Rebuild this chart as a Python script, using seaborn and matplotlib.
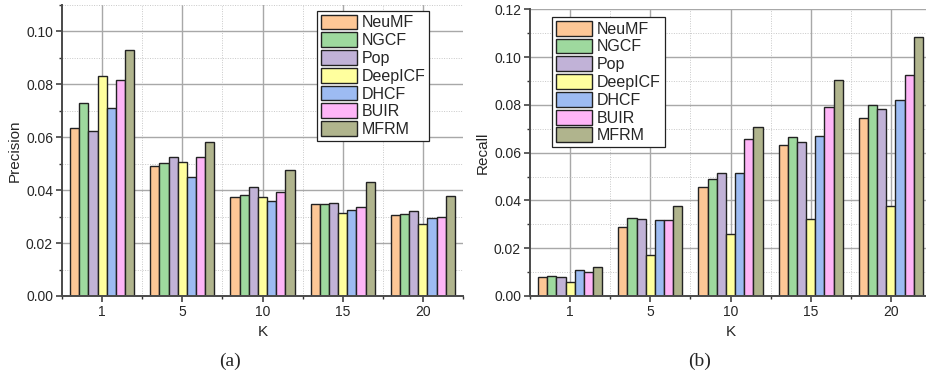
import numpy as np
import pandas as pd
import matplotlib
matplotlib.use("Agg")
import matplotlib.pyplot as plt
from matplotlib.ticker import MultipleLocator, FixedLocator
import seaborn as sns

sns.set_style("white")
plt.rcParams['font.family'] = ['Liberation Sans', 'DejaVu Sans']

ks = ['1', '5', '10', '15', '20']
methods = ['NeuMF', 'NGCF', 'Pop', 'DeepICF', 'DHCF', 'BUIR', 'MFRM']
colors = ['#FDC796', '#9ED99E', '#C1B2D7', '#FFFF9E', '#9DBBF2', '#FEB5F7', '#B0B48D']

# precision per method, one value per K
prec_neumf = [0.0634, 0.0492, 0.0374, 0.0349, 0.0306]
prec_ngcf = [0.0729, 0.0504, 0.0383, 0.0349, 0.0309]
prec_pop = [0.0625, 0.0524, 0.0412, 0.0351, 0.0321]
prec_deepicf = [0.0831, 0.0508, 0.0374, 0.0312, 0.0272]
prec_dhcf = [0.0710, 0.0451, 0.0360, 0.0326, 0.0295]
prec_buir = [0.0816, 0.0524, 0.0392, 0.0335, 0.0298]
prec_mfrm = [0.0931, 0.0581, 0.0476, 0.0430, 0.0378]

# recall per method, one value per K
rec_neumf = [0.0080, 0.0288, 0.0458, 0.0632, 0.0744]
rec_ngcf = [0.0082, 0.0327, 0.0491, 0.0667, 0.0800]
rec_pop = [0.0080, 0.0321, 0.0514, 0.0643, 0.0782]
rec_deepicf = [0.0060, 0.0172, 0.0260, 0.0324, 0.0377]
rec_dhcf = [0.0107, 0.0317, 0.0516, 0.0670, 0.0822]
rec_buir = [0.0100, 0.0320, 0.0655, 0.0789, 0.0923]
rec_mfrm = [0.0121, 0.0378, 0.0706, 0.0906, 0.1086]

prec = [prec_neumf, prec_ngcf, prec_pop, prec_deepicf, prec_dhcf, prec_buir, prec_mfrm]
rec = [rec_neumf, rec_ngcf, rec_pop, rec_deepicf, rec_dhcf, rec_buir, rec_mfrm]


def to_long(vals, name):
    rows = []
    for m, v in zip(methods, vals):
        for k, x in zip(ks, v):
            rows.append((k, m, x))
    return pd.DataFrame(rows, columns=['K', 'Method', name])


def draw(ax, df, col, ylim, legend_loc):
    sns.barplot(data=df, x='K', y=col, hue='Method', order=ks, hue_order=methods,
                palette=colors, width=0.8, edgecolor='#222222', linewidth=1.0,
                saturation=1, ax=ax)
    ax.set_xlim(-0.5, 4.5)
    ax.set_ylim(*ylim)
    ax.yaxis.set_major_locator(MultipleLocator(0.02))
    ax.yaxis.set_minor_locator(MultipleLocator(0.01))
    ax.xaxis.set_minor_locator(FixedLocator(np.arange(-0.5, 5, 1)))
    ax.yaxis.set_major_formatter(plt.FormatStrFormatter('%.2f'))
    ax.set_axisbelow(True)
    ax.grid(which='major', color='#a8a8a8', lw=1.0, ls='-')
    ax.grid(which='minor', color='#c8c8c8', lw=0.7, ls=(0, (1, 1.5)))
    for s in ['top', 'right']:
        ax.spines[s].set_visible(False)
    for s in ['left', 'bottom']:
        ax.spines[s].set_color('#4a4a4a')
        ax.spines[s].set_linewidth(1.4)
    ax.tick_params(which='major', direction='out', length=4, width=1.1, color='#333333',
                   labelsize=10, pad=2.5, left=True, bottom=True)
    ax.tick_params(which='minor', direction='out', length=2.5, width=1.0, color='#333333',
                   left=True, bottom=True)
    ax.set_xlabel('K', fontsize=11, labelpad=4)
    ax.set_ylabel(col, fontsize=11, labelpad=3)
    h, l = ax.get_legend_handles_labels()
    leg = ax.legend(h, l, loc='upper left', bbox_to_anchor=legend_loc, fontsize=11.5,
                    frameon=True, fancybox=False, edgecolor='#222222', framealpha=1,
                    handlelength=2.25, handleheight=1.05, labelspacing=0.12,
                    handletextpad=0.35, borderpad=0.22, borderaxespad=0)
    leg.get_frame().set_linewidth(0.9)


fig = plt.figure(figsize=(9.26, 3.77), dpi=100)
ax1 = fig.add_axes([0.0670, 0.2149, 0.433, 0.772])
ax2 = fig.add_axes([0.5724, 0.2149, 0.433, 0.7605])

draw(ax1, to_long(prec, 'Precision'), 'Precision', (0, 0.11), (0.636, 0.979))
draw(ax2, to_long(rec, 'Recall'), 'Recall', (0, 0.12), (0.055, 0.972))

fig.text(0.248, 0.03, '(a)', fontsize=14, family=['Liberation Serif', 'DejaVu Serif'], ha='center')
fig.text(0.755, 0.03, '(b)', fontsize=14, family=['Liberation Serif', 'DejaVu Serif'], ha='center')

fig.savefig('out.png', dpi=100)
